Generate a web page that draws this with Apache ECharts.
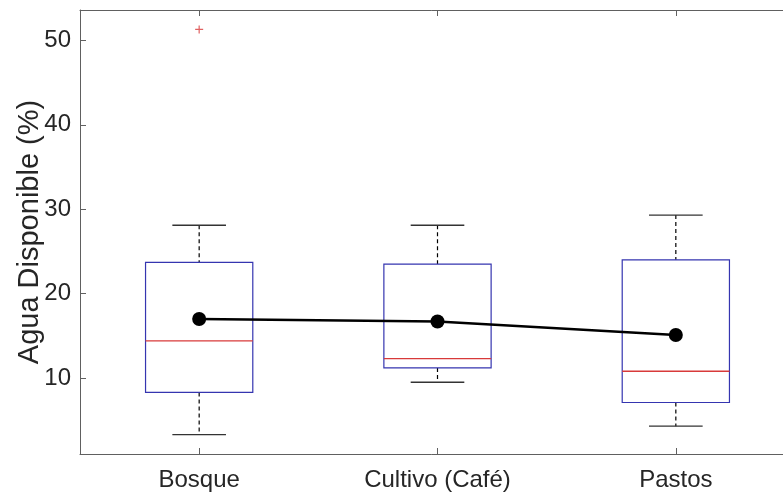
<!DOCTYPE html>
<html>
<head>
<meta charset="utf-8">
<script src="https://cdn.jsdelivr.net/npm/echarts@6/dist/echarts.min.js"></script>
<style>
html,body{margin:0;padding:0;background:#fff;}
#chart{width:783px;height:494px;}
</style>
</head>
<body>
<div id="chart"></div>
<script>
const categories = ['Bosque', 'Cultivo (Café)', 'Pastos'];
const lowerWhisker = [3.3, 9.5, 4.3];
const q1 = [8.3, 11.2, 7.1];
const medians = [14.4, 12.3, 10.8];
const q3 = [23.7, 23.5, 24.0];
const upperWhisker = [28.1, 28.1, 29.3];
const means = [17.0, 16.7, 15.1];
const outliers = [[0, 51.3]];
const yTicks = [10, 20, 30, 40, 50];

const boxData = categories.map((c, i) => [i, lowerWhisker[i], q1[i], medians[i], q3[i], upperWhisker[i]]);

const FONT = '"Liberation Sans", Arial, sans-serif';
const TXT = '#262626';
const AX = '#606060';

function renderBox(params, api) {
  const x = api.value(0);
  const pLow = api.coord([x, api.value(1)]);
  const pQ1 = api.coord([x, api.value(2)]);
  const pMed = api.coord([x, api.value(3)]);
  const pQ3 = api.coord([x, api.value(4)]);
  const pHigh = api.coord([x, api.value(5)]);
  const bw = api.size([1, 0])[0];
  const hb = bw * 0.225;
  const hc = bw * 0.1125;
  const cx = pMed[0];
  const dash = {stroke: '#000', lineWidth: 1.2, lineDash: [4, 3]};
  const cap = {stroke: '#333', lineWidth: 1.3};
  return {
    type: 'group',
    children: [
      {type: 'line', shape: {x1: cx, y1: pHigh[1], x2: cx, y2: pQ3[1]}, style: dash},
      {type: 'line', shape: {x1: cx, y1: pQ1[1], x2: cx, y2: pLow[1]}, style: dash},
      {type: 'line', shape: {x1: cx - hc, y1: pHigh[1], x2: cx + hc, y2: pHigh[1]}, style: cap},
      {type: 'line', shape: {x1: cx - hc, y1: pLow[1], x2: cx + hc, y2: pLow[1]}, style: cap},
      {type: 'rect', shape: {x: cx - hb, y: pQ3[1], width: 2 * hb, height: pQ1[1] - pQ3[1]},
        style: {fill: 'none', stroke: '#3535b0', lineWidth: 1.2}},
      {type: 'line', shape: {x1: cx - hb, y1: pMed[1], x2: cx + hb, y2: pMed[1]},
        style: {stroke: '#d83a3a', lineWidth: 1.4}}
    ]
  };
}

const chart = echarts.init(document.getElementById('chart'), null, {renderer: 'canvas'});
chart.setOption({
  animation: false,
  backgroundColor: '#fff',
  grid: {left: 80, top: 10, width: 715, height: 444, outerBoundsMode: 'none', containLabel: false, show: false},
  xAxis: [{
    type: 'category',
    data: categories,
    position: 'bottom',
    axisLine: {show: true, lineStyle: {color: AX, width: 1}},
    axisTick: {show: true, inside: true, length: 6, alignWithLabel: true, lineStyle: {color: AX}},
    axisLabel: {fontFamily: FONT, fontSize: 24, color: TXT, margin: 14},
    splitLine: {show: false}
  }, {
    type: 'category',
    data: categories,
    position: 'top',
    axisLine: {show: true, lineStyle: {color: AX, width: 1}},
    axisTick: {show: true, inside: true, length: 6, alignWithLabel: true, lineStyle: {color: AX}},
    axisLabel: {show: false},
    splitLine: {show: false}
  }],
  yAxis: {
    type: 'value',
    min: 1,
    max: 53.6,
    name: 'Agua Disponible (%)',
    nameLocation: 'middle',
    nameGap: 36,
    nameMoveOverlap: false,
    nameRotate: 90,
    nameTextStyle: {fontFamily: FONT, fontSize: 29, color: TXT},
    axisLine: {show: true, lineStyle: {color: AX, width: 1}},
    axisTick: {show: true, inside: true, length: 6, customValues: yTicks, lineStyle: {color: AX}},
    axisLabel: {fontFamily: FONT, fontSize: 24, color: TXT, margin: 9, customValues: yTicks},
    splitLine: {show: false}
  },
  series: [
    {
      type: 'custom',
      renderItem: renderBox,
      data: boxData,
      encode: {x: 0, y: [1, 2, 3, 4, 5]},
      z: 2
    },
    {
      type: 'line',
      data: means,
      symbol: 'circle',
      symbolSize: 14,
      itemStyle: {color: '#000'},
      lineStyle: {color: '#000', width: 2.5},
      z: 3
    },
    {
      type: 'scatter',
      data: outliers,
      symbol: 'path://M3.4,0H4.6V3.4H8V4.6H4.6V8H3.4V4.6H0V3.4H3.4Z',
      symbolSize: 8,
      itemStyle: {color: '#d83a3a'},
      z: 3
    }
  ]
});
</script>
</body>
</html>
